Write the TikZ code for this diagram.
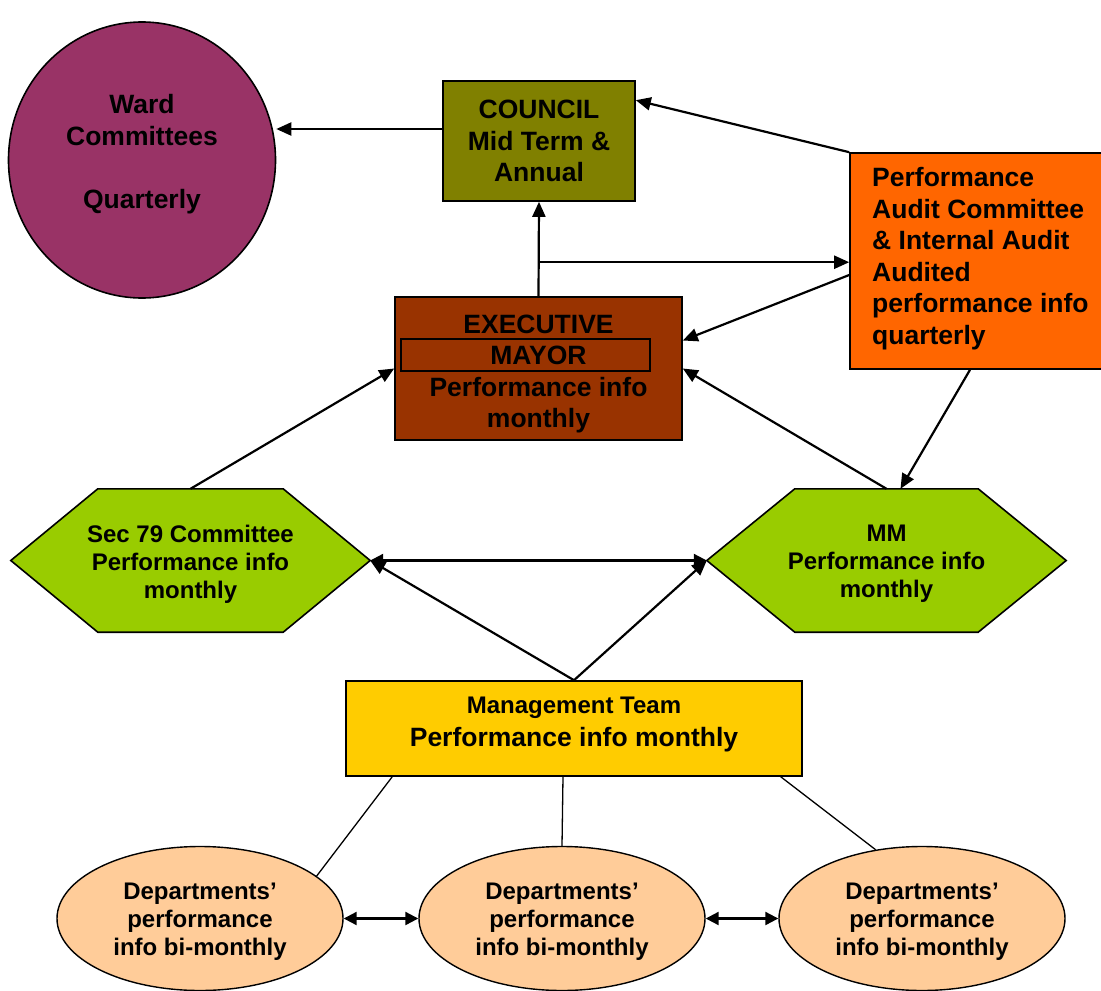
\documentclass[tikz,border=0pt]{standalone}
\usepackage{fontspec}
\setmainfont{Liberation Sans}
\usetikzlibrary{shapes.geometric, arrows.meta, calc, backgrounds}
\definecolor{wardpurple}{RGB}{153,51,102}
\definecolor{councilolive}{RGB}{128,128,0}
\definecolor{auditorange}{RGB}{255,102,0}
\definecolor{mayorbrown}{RGB}{153,51,0}
\definecolor{hexgreen}{RGB}{153,204,0}
\definecolor{mgmtyellow}{RGB}{255,204,0}
\definecolor{deptpeach}{RGB}{255,204,153}
\newcommand{\bigtxt}{\fontsize{26.5}{31.5}\selectfont\bfseries}
\newcommand{\midtxt}{\fontsize{24}{28}\selectfont\bfseries}

\begin{document}
\begin{tikzpicture}[x=1pt, y=-1pt,
  box/.style={draw=black, line width=1.6pt, inner sep=0pt, align=center, font=\bigtxt},
  hexbox/.style={inner sep=0pt, minimum width=359, minimum height=143},
  hexfill/.style={fill=hexgreen, draw=black, line width=1.6pt, line join=miter},
  dept/.style={ellipse, draw=black, line width=1.4pt, fill=deptpeach, inner sep=0pt,
    minimum width=286, minimum height=144},
  txt/.style={inner sep=0pt, align=center, font=\bigtxt},
  midt/.style={inner sep=0pt, align=center, font=\midtxt},
  arr/.style={line width=2.2pt, -{Triangle[length=15pt,width=13pt]}},
  darr/.style={line width=2.2pt, {Triangle[length=13pt,width=13pt]}-{Triangle[length=13pt,width=13pt]}},
  thin/.style={line width=1.3pt}]
\useasboundingbox (0,0) rectangle (1101,991);

% top row
\node[ellipse, draw=black, line width=1.6pt, fill=wardpurple, minimum width=267, minimum height=276] (ward) at (142,160) {};
\node[txt] (wardtext) at (142,154) {Ward\\Committees\\[31.5pt]Quarterly};
\node[box, fill=councilolive, minimum width=192, minimum height=120] (council) at (539,141) {COUNCIL\\Mid Term \&\\Annual};
\node[box, fill=auditorange, minimum width=256, minimum height=216] (audit) at (978,261) {};
\node[txt, anchor=west, align=left] (audittext) at (872,258.5) {Performance\\Audit Committee\\\& Internal Audit\\Audited\\performance info\\quarterly};

% mayor
\node[box, fill=mayorbrown, minimum width=287, minimum height=143] (mayor) at (538.5,368.5) {};
\node[draw=black, line width=1.4pt, minimum width=249, minimum height=32, inner sep=0pt] (mayorframe) at (525.5,355) {};
\node[txt] (mayortext) at (538.5,374) {EXECUTIVE\\MAYOR\\Performance info\\monthly};

% committees
\node[hexbox] (sec) at (190.5,560.5) {};
\node[hexbox] (mm) at (886.5,560.5) {};
\begin{pgfonlayer}{background}
\filldraw[hexfill] (sec.west) -- ([xshift=87pt]sec.north west) -- ([xshift=-87pt]sec.north east) -- (sec.east)
  -- ([xshift=-87pt]sec.south east) -- ([xshift=87pt]sec.south west) -- cycle;
\filldraw[hexfill] (mm.west) -- ([xshift=88pt]mm.north west) -- ([xshift=-88pt]mm.north east) -- (mm.east)
  -- ([xshift=-88pt]mm.south east) -- ([xshift=88pt]mm.south west) -- cycle;
\end{pgfonlayer}
\node[midt] (sectext) at (190.5,564) {Sec 79 Committee\\Performance info\\monthly};
\node[midt] (mmtext) at (886.5,564) {MM\\Performance info\\monthly};

% management and departments
\node[box, fill=mgmtyellow, minimum width=456, minimum height=95] (mgmt) at (574,728.5) {};
\node[txt] (mgmttext) at (574,724.5) {{\fontsize{24}{28}\selectfont\bfseries Management Team}\\[1pt]Performance info monthly};
\node[dept] (dept1) at (200,918.5) {};
\node[dept] (dept2) at (562,918.5) {};
\node[dept] (dept3) at (922,918.5) {};
\node[midt] (dept1text) at (200,921.5) {Departments'\\performance\\info bi-monthly};
\node[midt] (dept2text) at (562,921.5) {Departments'\\performance\\info bi-monthly};
\node[midt] (dept3text) at (922,921.5) {Departments'\\performance\\info bi-monthly};

% arrows
\draw[arr] ([yshift=12pt]council.west) -- ([yshift=12pt]council.west -| ward.east);
\draw[arr] (audit.north west) -- ([yshift=-20pt]council.north east);
\draw[arr] (mayor.north) -- (council.south);
\coordinate (split) at ($(mayor.north)!0.36!(council.south)$);
\draw[arr] (split) -- (split -| audit.west);
\draw[arr] ([yshift=-14pt]audit.west) -- ([yshift=28pt]mayor.east);
\draw[arr] ([xshift=-8pt]audit.south) -- ([xshift=14pt]mm.north);
\draw[arr] (mm.north) -- (mayor.east);
\draw[arr] (sec.north) -- (mayor.west);
\draw[darr] (sec.east) -- (mm.west);
\draw[arr] (mgmt.north) -- (sec.east);
\draw[arr] (mgmt.north) -- (mm.west);
\draw[thin] ([xshift=47pt]mgmt.south west) -- (dept1.20);
\draw[thin] ([xshift=-11pt]mgmt.south) -- (dept2.north);
\draw[thin] ([xshift=-22pt]mgmt.south east) -- (dept3.124);
\draw[darr] (dept1.east) -- (dept2.west);
\draw[darr] (dept2.east) -- (dept3.west);
\end{tikzpicture}
\end{document}
